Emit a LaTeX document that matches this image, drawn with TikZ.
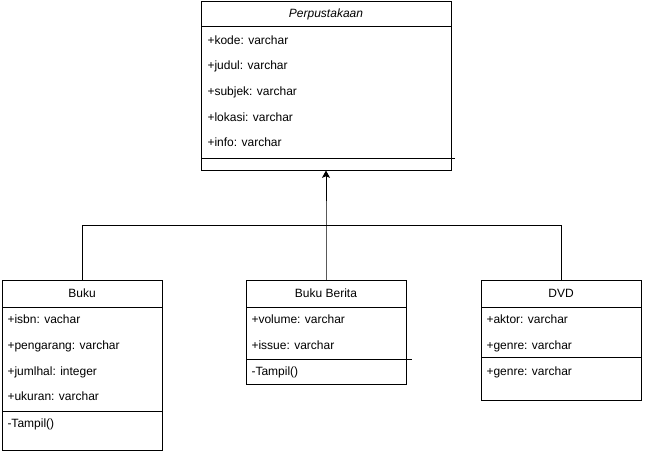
\documentclass[tikz,border=0pt]{standalone}
\usepackage{fontspec}
\setmainfont{Liberation Sans}
\usetikzlibrary{arrows.meta}
\begin{document}
\begin{tikzpicture}[x=0.75pt,y=-0.75pt,
  line width=0.75pt,
  umlbox/.style={draw=black, fill=white, inner sep=0pt},
  title/.style={anchor=mid, inner sep=0pt, font=\fontsize{9pt}{11pt}\selectfont},
  member/.style={anchor=mid west, inner sep=0pt, font=\fontsize{9pt}{11pt}\selectfont},
  inherit/.style={-{Stealth[length=5.5pt,width=6pt,inset=1.2pt]}}]
\useasboundingbox (0,0) rectangle (645,451);

% class frames
\node[umlbox, minimum width=187.5pt, minimum height=126.75pt] (perp) at (326,85.5) {};
\node[umlbox, minimum width=120pt, minimum height=127.5pt] (buku) at (82,365) {};
\node[umlbox, minimum width=120pt, minimum height=78pt] (berita) at (326,332) {};
\node[umlbox, minimum width=120pt, minimum height=90pt] (dvd) at (561,340) {};

% Perpustakaan
\node[title] (perpT) at (326,14) {\itshape Perpustakaan};
\draw (201,26) -- (451,26);
\node[member] (p1) at (207,41) {+kode: varchar};
\node[member] (p2) at (207,66) {+judul: varchar};
\node[member] (p3) at (207,92) {+subjek: varchar};
\node[member] (p4) at (207,118) {+lokasi: varchar};
\node[member] (p5) at (207,143) {+info: varchar};
\draw (201,158) -- (455,158);

% Buku
\node[title] (bukuT) at (82,294) {Buku};
\draw (2,307) -- (162,307);
\node[member] (b1) at (7,320) {+isbn: vachar};
\node[member] (b2) at (7,346) {+pengarang: varchar};
\node[member] (b3) at (7,372) {+jumlhal: integer};
\node[member] (b4) at (7,397) {+ukuran: varchar};
\draw (2,411) -- (162,411);
\node[member] (b5) at (7,424) {-Tampil()};

% Buku Berita
\node[title] (beritaT) at (326,294) {Buku Berita};
\draw (246,307) -- (406,307);
\node[member] (r1) at (251,320) {+volume: varchar};
\node[member] (r2) at (251,346) {+issue: varchar};
\draw (246,359) -- (412,359);
\node[member] (r3) at (251,372) {-Tampil()};

% DVD
\node[title] (dvdT) at (561,294) {DVD};
\draw (481,307) -- (641,307);
\node[member] (d1) at (486,320) {+aktor: varchar};
\node[member] (d2) at (486,346) {+genre: varchar};
\draw (481,357) -- (641,357);
\node[member] (d3) at (486,372) {+genre: varchar};

% generalisation connectors
\coordinate (join) at (326,225);
\draw (buku.north) |- (join);
\draw (dvd.north) |- (join);
\draw[inherit] (berita.north) -- (join) -- (perp.south);
\end{tikzpicture}
\end{document}
